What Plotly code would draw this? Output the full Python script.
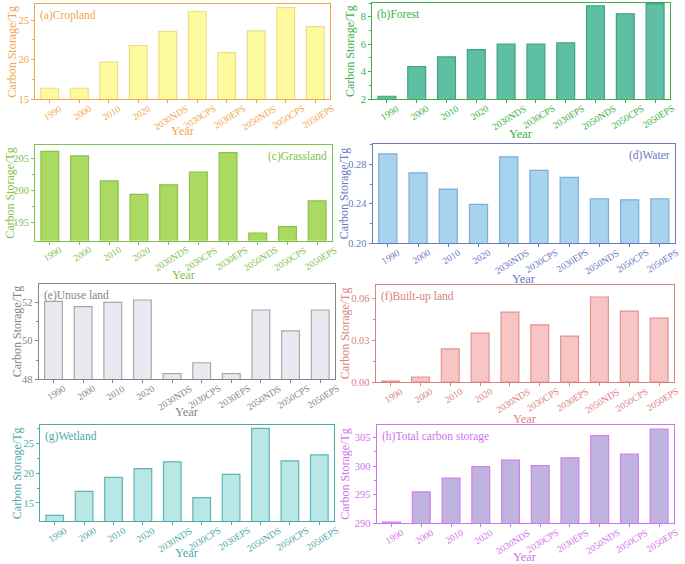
import plotly.graph_objects as go
from plotly.subplots import make_subplots

years = ["1990", "2000", "2010", "2020", "2030NDS", "2030CPS", "2030EPS",
         "2050NDS", "2050CPS", "2050EPS"]

cropland = [16.4, 16.4, 19.7, 21.8, 23.6, 26.1, 20.9, 23.65, 26.6, 24.2]
forest = [2.2, 4.37, 5.07, 5.6, 6.0, 6.0, 6.1, 8.8, 8.2, 8.95]
grassland = [206.1, 205.4, 201.5, 199.4, 200.9, 202.9, 205.9, 193.4, 194.4, 198.4]
water = [0.2905, 0.2712, 0.2549, 0.2394, 0.2874, 0.2739, 0.2668, 0.2451, 0.2440, 0.2451]
unuse = [52.05, 51.77, 52.0, 52.12, 48.29, 48.86, 48.29, 51.6, 50.52, 51.6]
builtup = [0.0007, 0.0036, 0.0237, 0.035, 0.050, 0.041, 0.0329, 0.0609, 0.0508, 0.0458]
wetland = [12.93, 16.96, 19.3, 20.77, 21.9, 15.9, 19.8, 27.5, 22.05, 23.05]
total = [290.2, 295.5, 297.9, 299.9, 301.05, 300.1, 301.45, 305.35, 302.1, 306.5]

W, H = 685, 564
FONT = "Liberation Serif"

# name, data, fill, border, text colour, y range, ticks, tick text, label side
panels = [
    ("(a)Cropland", cropland, "#FEFB9F", "#EEDC86", "#F2A64A",
     [15, 27.05], [15, 20, 25], None, "left"),
    ("(b)Forest", forest, "#5EBFA4", "#3FA37F", "#3DAF45",
     [2, 9.0], [2, 4, 6, 8], None, "left"),
    ("(c)Grassland", grassland, "#AADA62", "#8CC046", "#7DC24C",
     [192.2, 207.1], [195, 200, 205], None, "right"),
    ("(d)Water", water, "#A7D3EF", "#7DADD9", "#6C78C2",
     [0.20, 0.3005], [0.20, 0.24, 0.28], ["0.20", "0.24", "0.28"], "right"),
    ("(e)Unuse land", unuse, "#E9E9F1", "#A8A8A8", "#858585",
     [48, 52.95], [48, 50, 52], None, "left"),
    ("(f)Built-up land", builtup, "#F8C5C5", "#E39393", "#D98282",
     [0, 0.0695], [0, 0.03, 0.06], ["0.00", "0.03", "0.06"], "left"),
    ("(g)Wetland", wetland, "#B9E7E6", "#5DB5B5", "#4CA9A9",
     [11.93, 28.07], [15, 20, 25], None, "left"),
    ("(h)Total carbon storage", total, "#BEB4DF", "#D27FEA", "#D272EA",
     [290, 307.2], [290, 295, 300, 305], None, "left"),
]

# plot boxes in pixels: x0, x1, ytop, ybottom, y-title offset, x-title offset
boxes = [
    (35, 330, 4, 99.3, 23, 32), (372, 670, 3, 99, 22, 35),
    (35, 332, 145, 240.7, 25, 34), (372.7, 675, 144, 243.3, 29, 36),
    (38.7, 335, 284, 379.3, 22, 33), (375.7, 674, 285, 382, 31, 37),
    (40, 334, 425, 521.3, 23, 32), (376.7, 674, 425, 523.3, 32, 34),
]

fig = make_subplots(rows=4, cols=2)

for i, (name, vals, fill, border, tc, yr, tv, tt, side) in enumerate(panels):
    r, c = i // 2 + 1, i % 2 + 1
    fig.add_trace(go.Bar(x=years, y=vals, width=0.6,
                         marker=dict(color=fill, line=dict(color=border, width=1.2)),
                         showlegend=False, hoverinfo="x+y"), row=r, col=c)
    x0, x1, yt, yb, ty, tx = boxes[i]
    sfx = "" if i == 0 else str(i + 1)
    fig.layout["xaxis" + sfx].update(
        domain=[x0 / W, x1 / W], range=[-0.5, 9.5], automargin=False,
        type="category",
        showline=True, mirror=True, linecolor=tc, linewidth=1,
        ticks="outside", ticklen=3, tickcolor=tc, showticklabels=False,
        showgrid=False, zeroline=False)
    fig.layout["yaxis" + sfx].update(
        domain=[1 - yb / H, 1 - yt / H], range=yr, automargin=False,
        tickvals=tv, ticktext=tt,
        showline=True, mirror=True, linecolor=tc, linewidth=1,
        ticks="outside", ticklen=3, tickcolor=tc,
        minor=dict(ticks="outside", ticklen=2, tickcolor=tc,
                   tickvals=[(a + b) / 2 for a, b in zip(tv[:-1], tv[1:])] +
                   [tv[-1] + (tv[1] - tv[0]) / 2]),
        tickfont=dict(family=FONT, size=10.5, color=tc),
        showgrid=False, zeroline=False)
    xd, yd = "x%s domain" % sfx, "y%s domain" % sfx
    # slanted category labels, centred under each tick (x = category index)
    for j, yv in enumerate(years):
        fig.add_annotation(text=yv, xref="x" + sfx, yref=yd, x=j, y=0,
                           xshift=3, yshift=-3, textangle=-32,
                           xanchor="center", yanchor="top", showarrow=False,
                           borderpad=0,
                           font=dict(family=FONT, size=9.5, color=tc))
    fig.add_annotation(
        text=name, xref=xd, yref=yd,
        x=0.01 if side == "left" else 0.99, y=0.97,
        xanchor=side, yanchor="top", showarrow=False,
        font=dict(family=FONT, size=11.5, color=tc))
    # axis titles
    fig.add_annotation(text="Year", xref=xd, yref=yd, x=0.5, y=0,
                       yshift=-tx, xanchor="center", yanchor="middle",
                       showarrow=False, font=dict(family=FONT, size=12.5, color=tc))
    fig.add_annotation(text="Carbon Storage/Tg", xref=xd, yref=yd, x=0, y=0.5,
                       xshift=-ty, textangle=-90, xanchor="center", yanchor="middle",
                       showarrow=False, font=dict(family=FONT, size=12, color=tc))

fig.update_layout(width=W, height=H, margin=dict(l=0, r=0, t=0, b=0),
                  plot_bgcolor="white", paper_bgcolor="white", bargap=0.4)

fig.write_html("out.html", config={"displayModeBar": False},
               post_script="document.body.style.margin='0';")
